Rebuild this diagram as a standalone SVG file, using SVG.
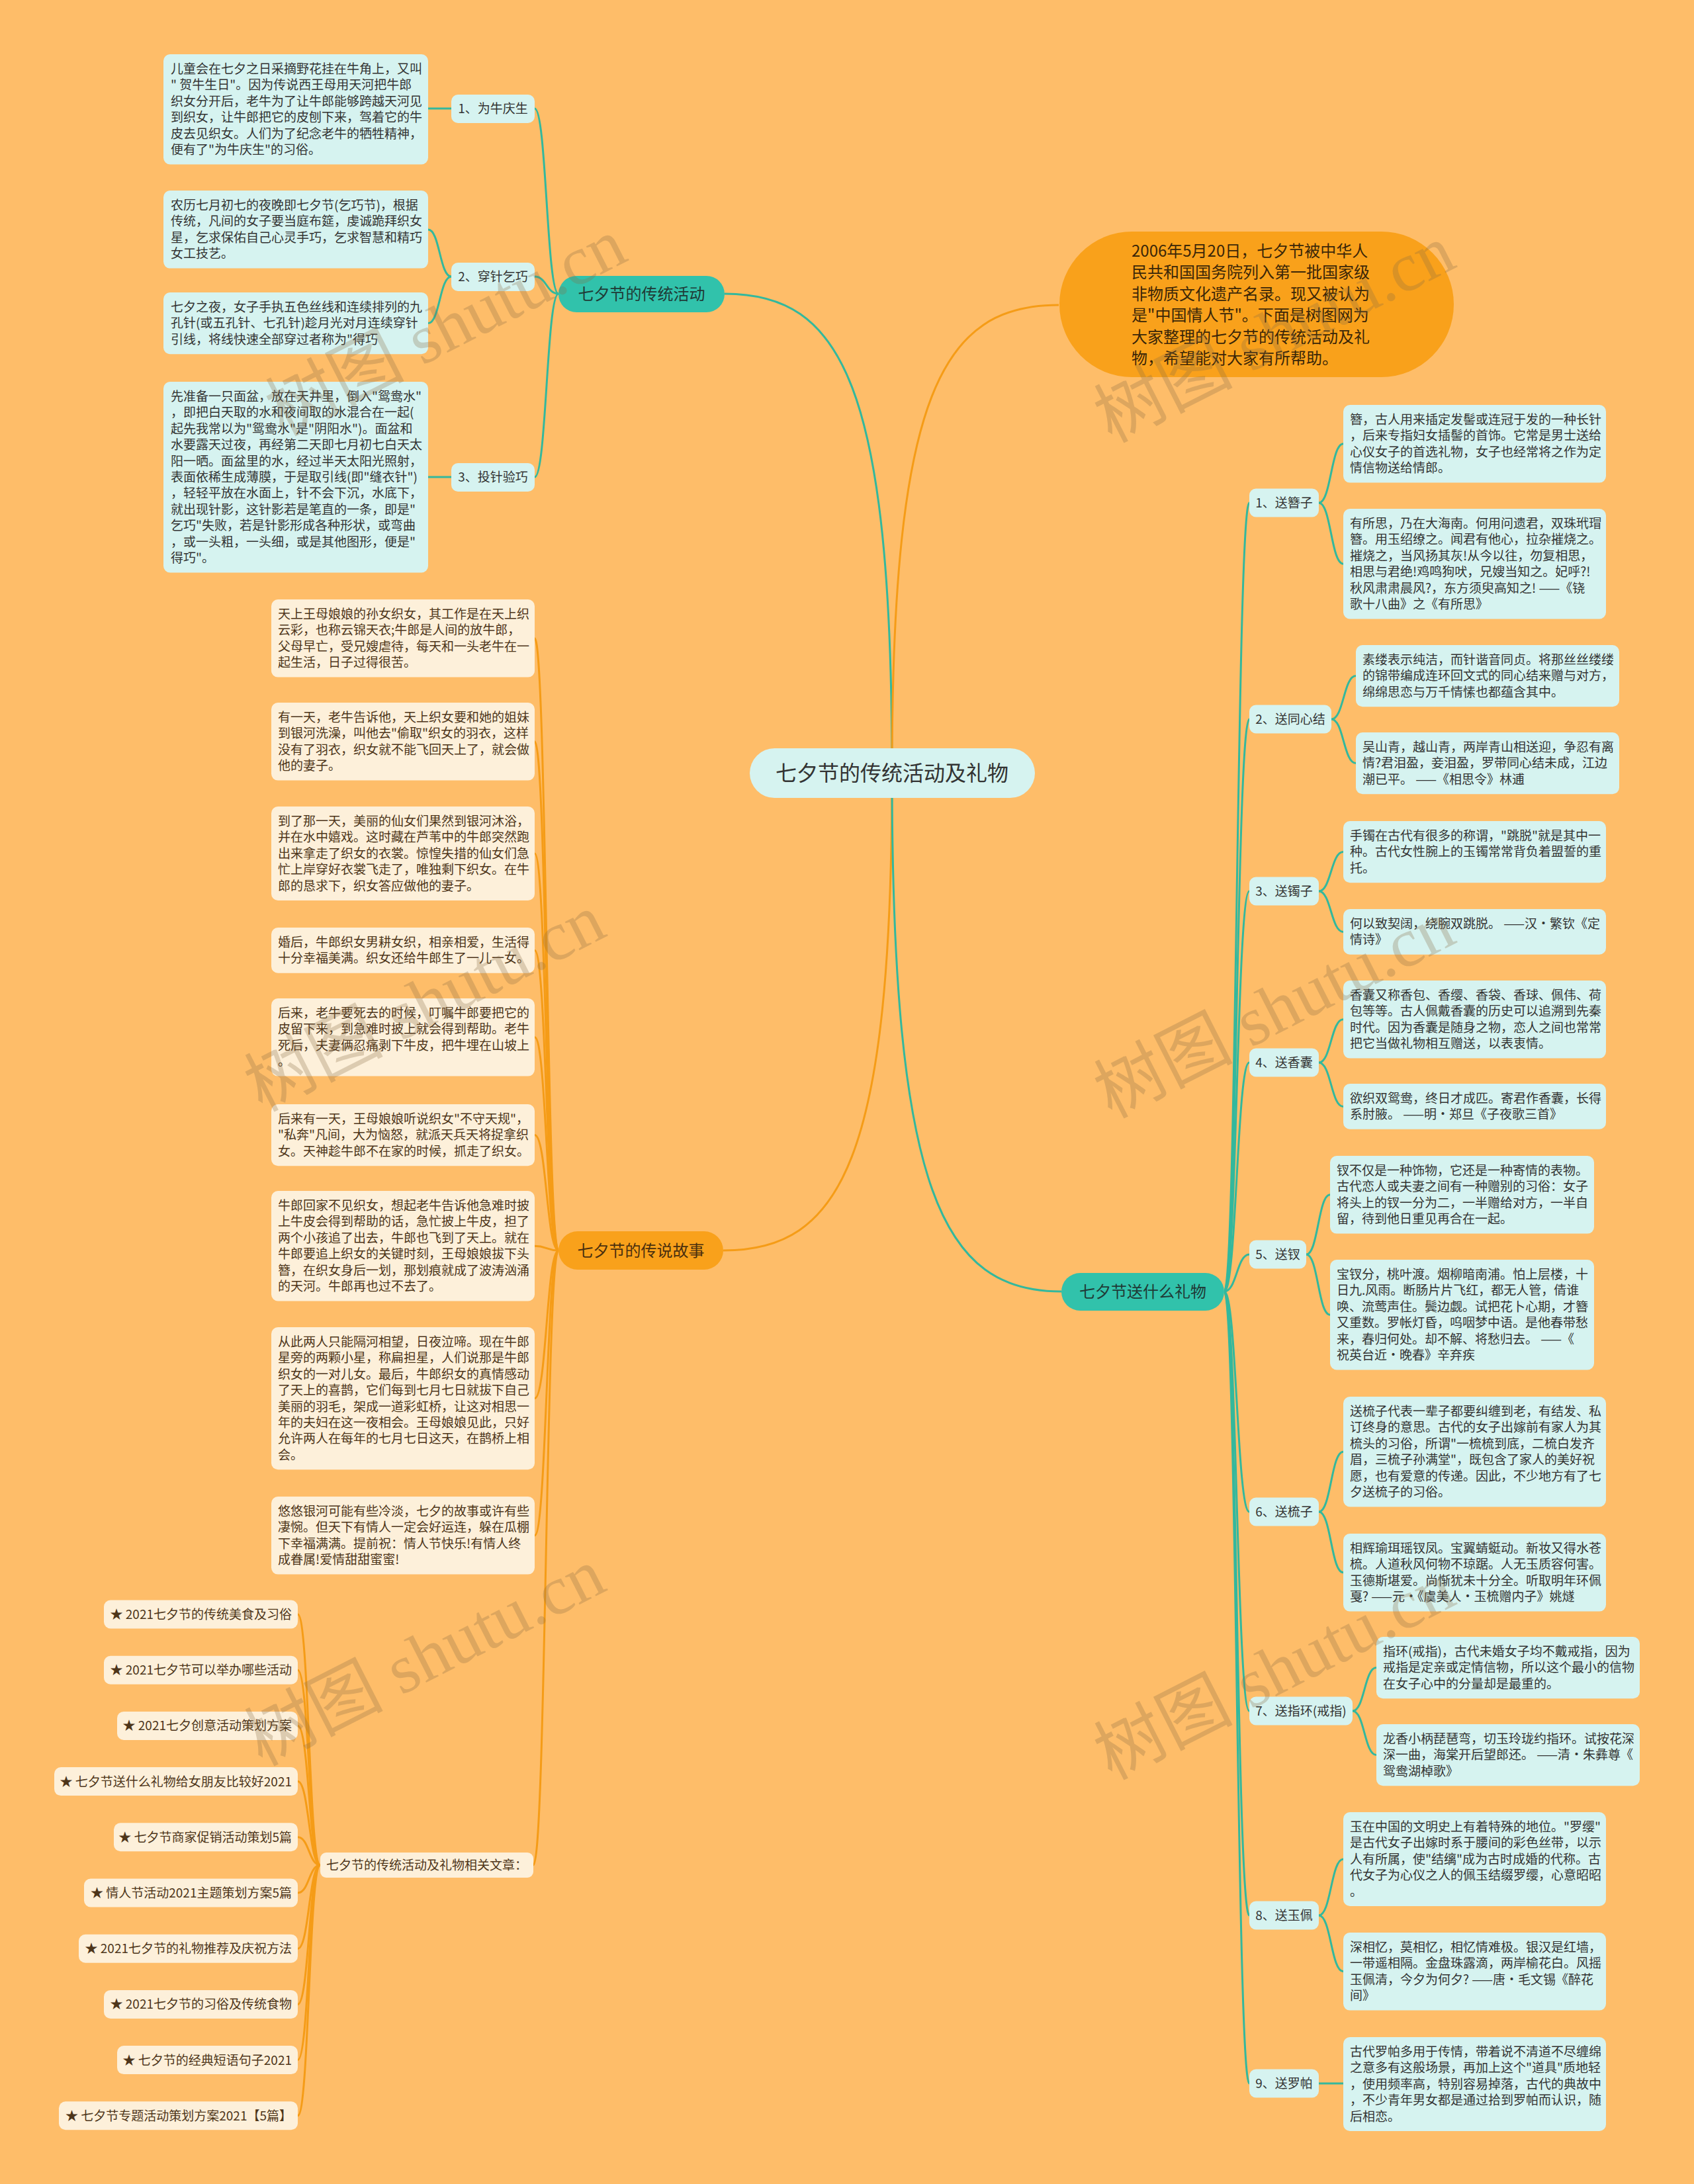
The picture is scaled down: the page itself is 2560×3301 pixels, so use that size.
<svg xmlns="http://www.w3.org/2000/svg" width="2560" height="3301" viewBox="0 0 2560 3301">
<style>
text{font-family:"Noto Sans CJK SC","Liberation Sans",sans-serif;}
.t{font-size:19px;fill:#333333;}
.tb{font-size:19px;fill:#4d3519;}
.cy{fill:#d6f3f0;}
.cr{fill:#fdf0da;}
.tl{fill:#31c2ab;}
.or{fill:#f9a11b;}
.lt{fill:none;stroke:#33b89d;stroke-width:3;}
.lo{fill:none;stroke:#f59c17;stroke-width:3;}
.c{text-anchor:middle;}
.e{text-anchor:end;}
.wm{font-family:"Liberation Serif","Noto Sans CJK SC",serif;font-size:105px;fill:#8a6a45;fill-opacity:0.28;text-anchor:middle;}
</style>
<rect x="0" y="0" width="2560" height="3301" fill="#febd69"/>

<g id="connectors">
<!-- root -->
<path class="lt" d="M1348 1168 C1348 581 1272 444 1095 444"/>
<path class="lo" d="M1348 1168 C1348 595 1424 461 1600 461"/>
<path class="lo" d="M1348 1168 C1348 1753 1271 1890 1093 1890"/>
<path class="lt" d="M1348 1168 C1348 1803 1425 1952 1604 1952"/>
<!-- traditional activities -->
<path class="lt" d="M844 444 C826 444 826 164 808 164"/>
<path class="lt" d="M844 444 C826 444 826 418 808 418"/>
<path class="lt" d="M844 444 C826 444 826 721 808 721"/>
<path class="lt" d="M682 164 L647 164"/>
<path class="lt" d="M682 418 C664.5 418 664.5 347 647 347"/>
<path class="lt" d="M682 418 C664.5 418 664.5 488.6 647 488.6"/>
<path class="lt" d="M682 721 L647 721"/>
<!-- story -->
<path class="lo" d="M844 1890 C826 1890 826 964.8 808 964.8"/>
<path class="lo" d="M844 1890 C826 1890 826 1120.8 808 1120.8"/>
<path class="lo" d="M844 1890 C826 1890 826 1290 808 1290"/>
<path class="lo" d="M844 1890 C826 1890 826 1436.4 808 1436.4"/>
<path class="lo" d="M844 1890 C826 1890 826 1567.8 808 1567.8"/>
<path class="lo" d="M844 1890 C826 1890 826 1715.6 808 1715.6"/>
<path class="lo" d="M844 1890 C826 1890 826 1883.2 808 1883.2"/>
<path class="lo" d="M844 1890 C826 1890 826 2113.6 808 2113.6"/>
<path class="lo" d="M844 1890 C826 1890 826 2320.8 808 2320.8"/>
<path class="lo" d="M844 1890 C825 1890 825 2819 806 2819"/>
<!-- related -->
<path class="lo" d="M484 2819 C467 2819 467 2440 450 2440"/>
<path class="lo" d="M484 2819 C467 2819 467 2524.2 450 2524.2"/>
<path class="lo" d="M484 2819 C467 2819 467 2608.4 450 2608.4"/>
<path class="lo" d="M484 2819 C467 2819 467 2692.6 450 2692.6"/>
<path class="lo" d="M484 2819 C467 2819 467 2776.8 450 2776.8"/>
<path class="lo" d="M484 2819 C467 2819 467 2861 450 2861"/>
<path class="lo" d="M484 2819 C467 2819 467 2945.2 450 2945.2"/>
<path class="lo" d="M484 2819 C467 2819 467 3029.4 450 3029.4"/>
<path class="lo" d="M484 2819 C467 2819 467 3113.6 450 3113.6"/>
<path class="lo" d="M484 2819 C467 2819 467 3197.8 450 3197.8"/>
<!-- gifts main -->
<path class="lt" d="M1850 1952 C1869 1952 1869 760 1888 760"/>
<path class="lt" d="M1850 1952 C1869 1952 1869 1087 1888 1087"/>
<path class="lt" d="M1850 1952 C1869 1952 1869 1347 1888 1347"/>
<path class="lt" d="M1850 1952 C1869 1952 1869 1606 1888 1606"/>
<path class="lt" d="M1850 1952 C1869 1952 1869 1896 1888 1896"/>
<path class="lt" d="M1850 1952 C1869 1952 1869 2285 1888 2285"/>
<path class="lt" d="M1850 1952 C1869 1952 1869 2586 1888 2586"/>
<path class="lt" d="M1850 1952 C1869 1952 1869 2895 1888 2895"/>
<path class="lt" d="M1850 1952 C1869 1952 1869 3149 1888 3149"/>
<!-- gifts leaves -->
<path class="lt" d="M1993 760 C2011.5 760 2011.5 670.8 2030 670.8"/>
<path class="lt" d="M1993 760 C2011.5 760 2011.5 852.2 2030 852.2"/>
<path class="lt" d="M2012 1087 C2030.5 1087 2030.5 1021.6 2049 1021.6"/>
<path class="lt" d="M2012 1087 C2030.5 1087 2030.5 1153.6 2049 1153.6"/>
<path class="lt" d="M1993 1347 C2011.5 1347 2011.5 1287.6 2030 1287.6"/>
<path class="lt" d="M1993 1347 C2011.5 1347 2011.5 1408.4 2030 1408.4"/>
<path class="lt" d="M1993 1606 C2011.5 1606 2011.5 1540.8 2030 1540.8"/>
<path class="lt" d="M1993 1606 C2011.5 1606 2011.5 1672.4 2030 1672.4"/>
<path class="lt" d="M1974 1896 C1992 1896 1992 1805.8 2010 1805.8"/>
<path class="lt" d="M1974 1896 C1992 1896 1992 1987.2 2010 1987.2"/>
<path class="lt" d="M1993 2285 C2011.5 2285 2011.5 2194.2 2030 2194.2"/>
<path class="lt" d="M1993 2285 C2011.5 2285 2011.5 2376.8 2030 2376.8"/>
<path class="lt" d="M2044 2586 C2062 2586 2062 2520.6 2080 2520.6"/>
<path class="lt" d="M2044 2586 C2062 2586 2062 2652.6 2080 2652.6"/>
<path class="lt" d="M1993 2895 C2011.5 2895 2011.5 2810 2030 2810"/>
<path class="lt" d="M1993 2895 C2011.5 2895 2011.5 2979.8 2030 2979.8"/>
<path class="lt" d="M1993 3149 L2030 3149"/>
</g>

<g id="root">
<rect x="1133" y="1131" width="431" height="75" rx="37.5" class="cy"/>
<text x="1348" y="1180" class="c" font-size="32" fill="#333333">七夕节的传统活动及礼物</text>
</g>

<g id="intro">
<rect x="1601" y="350" width="596" height="220" rx="110" class="or"/>
<text x="1710" y="388" font-size="24" fill="#3a2608">
<tspan x="1710">2006年5月20日，七夕节被中华人</tspan>
<tspan x="1710" dy="32.4">民共和国国务院列入第一批国家级</tspan>
<tspan x="1710" dy="32.4">非物质文化遗产名录。现又被认为</tspan>
<tspan x="1710" dy="32.4">是"中国情人节"。下面是树图网为</tspan>
<tspan x="1710" dy="32.4">大家整理的七夕节的传统活动及礼</tspan>
<tspan x="1710" dy="32.4">物，希望能对大家有所帮助。</tspan>
</text>
</g>

<!-- traditional activities -->
<g id="trad">
<rect x="844" y="417" width="251" height="55" rx="27.5" class="tl"/>
<text x="969.5" y="453" class="c" font-size="24" fill="#1f3a36">七夕节的传统活动</text>
</g>
<g id="trad1"><rect x="682" y="143" width="126" height="43" rx="10" class="cy"/><text x="745" y="171" class="t c">1、为牛庆生</text></g>
<g id="trad2"><rect x="682" y="397" width="126" height="43" rx="10" class="cy"/><text x="745" y="425" class="t c">2、穿针乞巧</text></g>
<g id="trad3"><rect x="682" y="700" width="126" height="43" rx="10" class="cy"/><text x="745" y="728" class="t c">3、投针验巧</text></g>
<g id="trad1a"><rect x="247" y="82" width="400" height="166.4" rx="10" class="cy"/>
<text x="258" y="111" class="t"><tspan x="258">儿童会在七夕之日采摘野花挂在牛角上，又叫</tspan><tspan x="258" dy="24.4">" 贺牛生日"。因为传说西王母用天河把牛郎</tspan><tspan x="258" dy="24.4">织女分开后，老牛为了让牛郎能够跨越天河见</tspan><tspan x="258" dy="24.4">到织女，让牛郎把它的皮刨下来，驾着它的牛</tspan><tspan x="258" dy="24.4">皮去见织女。人们为了纪念老牛的牺牲精神，</tspan><tspan x="258" dy="24.4">便有了"为牛庆生"的习俗。</tspan></text></g>
<g id="trad2a"><rect x="247" y="288" width="400" height="117.6" rx="10" class="cy"/>
<text x="258" y="317" class="t"><tspan x="258">农历七月初七的夜晚即七夕节(乞巧节)，根据</tspan><tspan x="258" dy="24.4">传统，凡间的女子要当庭布筵，虔诚跪拜织女</tspan><tspan x="258" dy="24.4">星，乞求保佑自己心灵手巧，乞求智慧和精巧</tspan><tspan x="258" dy="24.4">女工技艺。</tspan></text></g>
<g id="trad2b"><rect x="247" y="442" width="400" height="93.2" rx="10" class="cy"/>
<text x="258" y="471" class="t"><tspan x="258">七夕之夜，女子手执五色丝线和连续排列的九</tspan><tspan x="258" dy="24.4">孔针(或五孔针、七孔针)趁月光对月连续穿针</tspan><tspan x="258" dy="24.4">引线，将线快速全部穿过者称为"得巧</tspan></text></g>
<g id="trad3a"><rect x="247" y="577" width="400" height="288.4" rx="10" class="cy"/>
<text x="258" y="606" class="t"><tspan x="258">先准备一只面盆，放在天井里，倒入"鸳鸯水"</tspan><tspan x="258" dy="24.4">，即把白天取的水和夜间取的水混合在一起(</tspan><tspan x="258" dy="24.4">起先我常以为"鸳鸯水"是"阴阳水")。面盆和</tspan><tspan x="258" dy="24.4">水要露天过夜，再经第二天即七月初七白天太</tspan><tspan x="258" dy="24.4">阳一晒。面盆里的水，经过半天太阳光照射，</tspan><tspan x="258" dy="24.4">表面依稀生成薄膜，于是取引线(即"缝衣针")</tspan><tspan x="258" dy="24.4">，轻轻平放在水面上，针不会下沉，水底下，</tspan><tspan x="258" dy="24.4">就出现针影，这针影若是笔直的一条，即是"</tspan><tspan x="258" dy="24.4">乞巧"失败，若是针影形成各种形状，或弯曲</tspan><tspan x="258" dy="24.4">，或一头粗，一头细，或是其他图形，便是"</tspan><tspan x="258" dy="24.4">得巧"。</tspan></text></g>

<!-- story -->
<g id="story">
<rect x="844" y="1861" width="249" height="58" rx="29" class="or"/>
<text x="968.5" y="1899" class="c" font-size="24" fill="#4a2f0e">七夕节的传说故事</text>
</g>
<g id="story1"><rect x="410" y="906" width="398" height="117.6" rx="10" class="cr"/>
<text x="420" y="935" class="tb"><tspan x="420">天上王母娘娘的孙女织女，其工作是在天上织</tspan><tspan x="420" dy="24.4">云彩，也称云锦天衣;牛郎是人间的放牛郎，</tspan><tspan x="420" dy="24.4">父母早亡，受兄嫂虐待，每天和一头老牛在一</tspan><tspan x="420" dy="24.4">起生活，日子过得很苦。</tspan></text></g>
<g id="story2"><rect x="410" y="1062" width="398" height="117.6" rx="10" class="cr"/>
<text x="420" y="1091" class="tb"><tspan x="420">有一天，老牛告诉他，天上织女要和她的姐妹</tspan><tspan x="420" dy="24.4">到银河洗澡，叫他去"偷取"织女的羽衣，这样</tspan><tspan x="420" dy="24.4">没有了羽衣，织女就不能飞回天上了，就会做</tspan><tspan x="420" dy="24.4">他的妻子。</tspan></text></g>
<g id="story3"><rect x="410" y="1219" width="398" height="142" rx="10" class="cr"/>
<text x="420" y="1248" class="tb"><tspan x="420">到了那一天，美丽的仙女们果然到银河沐浴，</tspan><tspan x="420" dy="24.4">并在水中嬉戏。这时藏在芦苇中的牛郎突然跑</tspan><tspan x="420" dy="24.4">出来拿走了织女的衣裳。惊惶失措的仙女们急</tspan><tspan x="420" dy="24.4">忙上岸穿好衣裳飞走了，唯独剩下织女。在牛</tspan><tspan x="420" dy="24.4">郎的恳求下，织女答应做他的妻子。</tspan></text></g>
<g id="story4"><rect x="410" y="1402" width="398" height="68.8" rx="10" class="cr"/>
<text x="420" y="1431" class="tb"><tspan x="420">婚后，牛郎织女男耕女织，相亲相爱，生活得</tspan><tspan x="420" dy="24.4">十分幸福美满。织女还给牛郎生了一儿一女。</tspan></text></g>
<g id="story5"><rect x="410" y="1509" width="398" height="117.6" rx="10" class="cr"/>
<text x="420" y="1538" class="tb"><tspan x="420">后来，老牛要死去的时候，叮嘱牛郎要把它的</tspan><tspan x="420" dy="24.4">皮留下来，到急难时披上就会得到帮助。老牛</tspan><tspan x="420" dy="24.4">死后，夫妻俩忍痛剥下牛皮，把牛埋在山坡上</tspan><tspan x="420" dy="24.4">。</tspan></text></g>
<g id="story6"><rect x="410" y="1669" width="398" height="93.2" rx="10" class="cr"/>
<text x="420" y="1698" class="tb"><tspan x="420">后来有一天，王母娘娘听说织女"不守天规"，</tspan><tspan x="420" dy="24.4">"私奔"凡间，大为恼怒，就派天兵天将捉拿织</tspan><tspan x="420" dy="24.4">女。天神趁牛郎不在家的时候，抓走了织女。</tspan></text></g>
<g id="story7"><rect x="410" y="1800" width="398" height="166.4" rx="10" class="cr"/>
<text x="420" y="1829" class="tb"><tspan x="420">牛郎回家不见织女，想起老牛告诉他急难时披</tspan><tspan x="420" dy="24.4">上牛皮会得到帮助的话，急忙披上牛皮，担了</tspan><tspan x="420" dy="24.4">两个小孩追了出去，牛郎也飞到了天上。就在</tspan><tspan x="420" dy="24.4">牛郎要追上织女的关键时刻，王母娘娘拔下头</tspan><tspan x="420" dy="24.4">簪，在织女身后一划，那划痕就成了波涛汹涌</tspan><tspan x="420" dy="24.4">的天河。牛郎再也过不去了。</tspan></text></g>
<g id="story8"><rect x="410" y="2006" width="398" height="215.2" rx="10" class="cr"/>
<text x="420" y="2035" class="tb"><tspan x="420">从此两人只能隔河相望，日夜泣啼。现在牛郎</tspan><tspan x="420" dy="24.4">星旁的两颗小星，称扁担星，人们说那是牛郎</tspan><tspan x="420" dy="24.4">织女的一对儿女。最后，牛郎织女的真情感动</tspan><tspan x="420" dy="24.4">了天上的喜鹊，它们每到七月七日就拔下自己</tspan><tspan x="420" dy="24.4">美丽的羽毛，架成一道彩虹桥，让这对相思一</tspan><tspan x="420" dy="24.4">年的夫妇在这一夜相会。王母娘娘见此，只好</tspan><tspan x="420" dy="24.4">允许两人在每年的七月七日这天，在鹊桥上相</tspan><tspan x="420" dy="24.4">会。</tspan></text></g>
<g id="story9"><rect x="410" y="2262" width="398" height="117.6" rx="10" class="cr"/>
<text x="420" y="2291" class="tb"><tspan x="420">悠悠银河可能有些冷淡，七夕的故事或许有些</tspan><tspan x="420" dy="24.4">凄惋。但天下有情人一定会好运连，躲在瓜棚</tspan><tspan x="420" dy="24.4">下幸福满满。提前祝：情人节快乐!有情人终</tspan><tspan x="420" dy="24.4">成眷属!爱情甜甜蜜蜜!</tspan></text></g>

<!-- related -->
<g id="related"><rect x="484" y="2800" width="322" height="38" rx="9" class="cr"/><text x="645" y="2826" class="tb c">七夕节的传统活动及礼物相关文章：</text></g>
<g id="rel1"><rect x="157" y="2418.5" width="293" height="43" rx="10" class="cr"/><text x="441" y="2447" class="tb e">★ 2021七夕节的传统美食及习俗</text></g>
<g id="rel2"><rect x="157" y="2502.7" width="293" height="43" rx="10" class="cr"/><text x="441" y="2531.2" class="tb e">★ 2021七夕节可以举办哪些活动</text></g>
<g id="rel3"><rect x="177" y="2586.9" width="273" height="43" rx="10" class="cr"/><text x="441" y="2615.4" class="tb e">★ 2021七夕创意活动策划方案</text></g>
<g id="rel4"><rect x="82" y="2671.1" width="368" height="43" rx="10" class="cr"/><text x="441" y="2699.6" class="tb e">★ 七夕节送什么礼物给女朋友比较好2021</text></g>
<g id="rel5"><rect x="172" y="2755.3" width="278" height="43" rx="10" class="cr"/><text x="441" y="2783.8" class="tb e">★ 七夕节商家促销活动策划5篇</text></g>
<g id="rel6"><rect x="127" y="2839.5" width="323" height="43" rx="10" class="cr"/><text x="441" y="2868" class="tb e">★ 情人节活动2021主题策划方案5篇</text></g>
<g id="rel7"><rect x="119" y="2923.7" width="331" height="43" rx="10" class="cr"/><text x="441" y="2952.2" class="tb e">★ 2021七夕节的礼物推荐及庆祝方法</text></g>
<g id="rel8"><rect x="157" y="3007.9" width="293" height="43" rx="10" class="cr"/><text x="441" y="3036.4" class="tb e">★ 2021七夕节的习俗及传统食物</text></g>
<g id="rel9"><rect x="177" y="3092.1" width="273" height="43" rx="10" class="cr"/><text x="441" y="3120.6" class="tb e">★ 七夕节的经典短语句子2021</text></g>
<g id="rel10"><rect x="89" y="3176.3" width="361" height="43" rx="10" class="cr"/><text x="441" y="3204.8" class="tb e">★ 七夕节专题活动策划方案2021【5篇】</text></g>

<!-- gifts -->
<g id="gifts">
<rect x="1604" y="1924" width="246" height="57" rx="28.5" class="tl"/>
<text x="1727" y="1961" class="c" font-size="24" fill="#1f3a36">七夕节送什么礼物</text>
</g>
<g id="g1"><rect x="1888" y="738.5" width="105" height="43" rx="10" class="cy"/><text x="1940.5" y="767" class="t c">1、送簪子</text></g>
<g id="g2"><rect x="1888" y="1065.5" width="124" height="43" rx="10" class="cy"/><text x="1950" y="1094" class="t c">2、送同心结</text></g>
<g id="g3"><rect x="1888" y="1325.5" width="105" height="43" rx="10" class="cy"/><text x="1940.5" y="1354" class="t c">3、送镯子</text></g>
<g id="g4"><rect x="1888" y="1584.5" width="105" height="43" rx="10" class="cy"/><text x="1940.5" y="1613" class="t c">4、送香囊</text></g>
<g id="g5"><rect x="1888" y="1874.5" width="86" height="43" rx="10" class="cy"/><text x="1931" y="1903" class="t c">5、送钗</text></g>
<g id="g6"><rect x="1888" y="2263.5" width="105" height="43" rx="10" class="cy"/><text x="1940.5" y="2292" class="t c">6、送梳子</text></g>
<g id="g7"><rect x="1888" y="2564.5" width="156" height="43" rx="10" class="cy"/><text x="1966" y="2593" class="t c">7、送指环(戒指)</text></g>
<g id="g8"><rect x="1888" y="2873.5" width="105" height="43" rx="10" class="cy"/><text x="1940.5" y="2902" class="t c">8、送玉佩</text></g>
<g id="g9"><rect x="1888" y="3127.5" width="105" height="43" rx="10" class="cy"/><text x="1940.5" y="3156" class="t c">9、送罗帕</text></g>

<g id="g1a"><rect x="2030" y="612" width="397" height="117.6" rx="10" class="cy"/>
<text x="2040" y="641" class="t"><tspan x="2040">簪，古人用来插定发髻或连冠于发的一种长针</tspan><tspan x="2040" dy="24.4">，后来专指妇女插髻的首饰。它常是男士送给</tspan><tspan x="2040" dy="24.4">心仪女子的首选礼物，女子也经常将之作为定</tspan><tspan x="2040" dy="24.4">情信物送给情郎。</tspan></text></g>
<g id="g1b"><rect x="2030" y="769" width="397" height="166.4" rx="10" class="cy"/>
<text x="2040" y="798" class="t"><tspan x="2040">有所思，乃在大海南。何用问遗君，双珠玳瑁</tspan><tspan x="2040" dy="24.4">簪。用玉绍缭之。闻君有他心，拉杂摧烧之。</tspan><tspan x="2040" dy="24.4">摧烧之，当风扬其灰!从今以往，勿复相思，</tspan><tspan x="2040" dy="24.4">相思与君绝!鸡鸣狗吠，兄嫂当知之。妃呼?!</tspan><tspan x="2040" dy="24.4">秋风肃肃晨风?，东方须臾高知之! ——《铙</tspan><tspan x="2040" dy="24.4">歌十八曲》之《有所思》</tspan></text></g>
<g id="g2a"><rect x="2049" y="975" width="398" height="93.2" rx="10" class="cy"/>
<text x="2059" y="1004" class="t"><tspan x="2059">素缕表示纯洁，而针谐音同贞。将那丝丝缕缕</tspan><tspan x="2059" dy="24.4">的锦带编成连环回文式的同心结来赠与对方，</tspan><tspan x="2059" dy="24.4">绵绵思恋与万千情愫也都蕴含其中。</tspan></text></g>
<g id="g2b"><rect x="2049" y="1107" width="398" height="93.2" rx="10" class="cy"/>
<text x="2059" y="1136" class="t"><tspan x="2059">吴山青，越山青，两岸青山相送迎，争忍有离</tspan><tspan x="2059" dy="24.4">情?君泪盈，妾泪盈，罗带同心结未成，江边</tspan><tspan x="2059" dy="24.4">潮已平。 ——《相思令》林逋</tspan></text></g>
<g id="g3a"><rect x="2030" y="1241" width="397" height="93.2" rx="10" class="cy"/>
<text x="2040" y="1270" class="t"><tspan x="2040">手镯在古代有很多的称谓，"跳脱"就是其中一</tspan><tspan x="2040" dy="24.4">种。古代女性腕上的玉镯常常背负着盟誓的重</tspan><tspan x="2040" dy="24.4">托。</tspan></text></g>
<g id="g3b"><rect x="2030" y="1374" width="397" height="68.8" rx="10" class="cy"/>
<text x="2040" y="1403" class="t"><tspan x="2040">何以致契阔，绕腕双跳脱。 ——汉·繁钦《定</tspan><tspan x="2040" dy="24.4">情诗》</tspan></text></g>
<g id="g4a"><rect x="2030" y="1482" width="397" height="117.6" rx="10" class="cy"/>
<text x="2040" y="1511" class="t"><tspan x="2040">香囊又称香包、香缨、香袋、香球、佩伟、荷</tspan><tspan x="2040" dy="24.4">包等等。古人佩戴香囊的历史可以追溯到先秦</tspan><tspan x="2040" dy="24.4">时代。因为香囊是随身之物，恋人之间也常常</tspan><tspan x="2040" dy="24.4">把它当做礼物相互赠送，以表衷情。</tspan></text></g>
<g id="g4b"><rect x="2030" y="1638" width="397" height="68.8" rx="10" class="cy"/>
<text x="2040" y="1667" class="t"><tspan x="2040">欲织双鸳鸯，终日才成匹。寄君作香囊，长得</tspan><tspan x="2040" dy="24.4">系肘腋。 ——明·郑旦《子夜歌三首》</tspan></text></g>
<g id="g5a"><rect x="2010" y="1747" width="399" height="117.6" rx="10" class="cy"/>
<text x="2020" y="1776" class="t"><tspan x="2020">钗不仅是一种饰物，它还是一种寄情的表物。</tspan><tspan x="2020" dy="24.4">古代恋人或夫妻之间有一种赠别的习俗：女子</tspan><tspan x="2020" dy="24.4">将头上的钗一分为二，一半赠给对方，一半自</tspan><tspan x="2020" dy="24.4">留，待到他日重见再合在一起。</tspan></text></g>
<g id="g5b"><rect x="2010" y="1904" width="399" height="166.4" rx="10" class="cy"/>
<text x="2020" y="1933" class="t"><tspan x="2020">宝钗分，桃叶渡。烟柳暗南浦。怕上层楼，十</tspan><tspan x="2020" dy="24.4">日九.风雨。断肠片片飞红，都无人管，倩谁</tspan><tspan x="2020" dy="24.4">唤、流莺声住。鬓边觑。试把花卜心期，才簪</tspan><tspan x="2020" dy="24.4">又重数。罗帐灯昏，呜咽梦中语。是他春带愁</tspan><tspan x="2020" dy="24.4">来，春归何处。却不解、将愁归去。 ——《</tspan><tspan x="2020" dy="24.4">祝英台近·晚春》辛弃疾</tspan></text></g>
<g id="g6a"><rect x="2030" y="2111" width="397" height="166.4" rx="10" class="cy"/>
<text x="2040" y="2140" class="t"><tspan x="2040">送梳子代表一辈子都要纠缠到老，有结发、私</tspan><tspan x="2040" dy="24.4">订终身的意思。古代的女子出嫁前有家人为其</tspan><tspan x="2040" dy="24.4">梳头的习俗，所谓"一梳梳到底，二梳白发齐</tspan><tspan x="2040" dy="24.4">眉，三梳子孙满堂"，既包含了家人的美好祝</tspan><tspan x="2040" dy="24.4">愿，也有爱意的传递。因此，不少地方有了七</tspan><tspan x="2040" dy="24.4">夕送梳子的习俗。</tspan></text></g>
<g id="g6b"><rect x="2030" y="2318" width="397" height="117.6" rx="10" class="cy"/>
<text x="2040" y="2347" class="t"><tspan x="2040">相辉瑜珥瑶钗凤。宝翼蜻蜓动。新妆又得水苍</tspan><tspan x="2040" dy="24.4">梳。人道秋风何物不琼踞。人无玉质容何害。</tspan><tspan x="2040" dy="24.4">玉德斯堪爱。尚惭犹未十分全。听取明年环佩</tspan><tspan x="2040" dy="24.4">戛? ——元·《虞美人·玉梳赠内子》姚燧</tspan></text></g>
<g id="g7a"><rect x="2080" y="2474" width="398" height="93.2" rx="10" class="cy"/>
<text x="2090" y="2503" class="t"><tspan x="2090">指环(戒指)，古代未婚女子均不戴戒指，因为</tspan><tspan x="2090" dy="24.4">戒指是定亲或定情信物，所以这个最小的信物</tspan><tspan x="2090" dy="24.4">在女子心中的分量却是最重的。</tspan></text></g>
<g id="g7b"><rect x="2080" y="2606" width="398" height="93.2" rx="10" class="cy"/>
<text x="2090" y="2635" class="t"><tspan x="2090">龙香小柄琵琶弯，切玉玲珑约指环。试按花深</tspan><tspan x="2090" dy="24.4">深一曲，海棠开后望郎还。 ——清·朱彝尊《</tspan><tspan x="2090" dy="24.4">鸳鸯湖棹歌》</tspan></text></g>
<g id="g8a"><rect x="2030" y="2739" width="397" height="142" rx="10" class="cy"/>
<text x="2040" y="2768" class="t"><tspan x="2040">玉在中国的文明史上有着特殊的地位。"罗缨"</tspan><tspan x="2040" dy="24.4">是古代女子出嫁时系于腰间的彩色丝带，以示</tspan><tspan x="2040" dy="24.4">人有所属，使"结缡"成为古时成婚的代称。古</tspan><tspan x="2040" dy="24.4">代女子为心仪之人的佩玉结缀罗缨，心意昭昭</tspan><tspan x="2040" dy="24.4">。</tspan></text></g>
<g id="g8b"><rect x="2030" y="2921" width="397" height="117.6" rx="10" class="cy"/>
<text x="2040" y="2950" class="t"><tspan x="2040">深相忆，莫相忆，相忆情难极。银汉是红墙，</tspan><tspan x="2040" dy="24.4">一带遥相隔。金盘珠露滴，两岸榆花白。风摇</tspan><tspan x="2040" dy="24.4">玉佩清，今夕为何夕? ——唐·毛文锡《醉花</tspan><tspan x="2040" dy="24.4">间》</tspan></text></g>
<g id="g9a"><rect x="2030" y="3079" width="397" height="142" rx="10" class="cy"/>
<text x="2040" y="3108" class="t"><tspan x="2040">古代罗帕多用于传情，带着说不清道不尽缠绵</tspan><tspan x="2040" dy="24.4">之意多有这般场景，再加上这个"道具"质地轻</tspan><tspan x="2040" dy="24.4">，使用频率高，特别容易掉落，古代的典故中</tspan><tspan x="2040" dy="24.4">，不少青年男女都是通过拾到罗帕而认识，随</tspan><tspan x="2040" dy="24.4">后相恋。</tspan></text></g>

<g id="watermarks">
<text class="wm" x="674" y="530" transform="rotate(-27 674 495)">树图 shutu.cn</text>
<text class="wm" x="1926" y="540" transform="rotate(-27 1926 505)">树图 shutu.cn</text>
<text class="wm" x="642" y="1551" transform="rotate(-27 642 1516)">树图 shutu.cn</text>
<text class="wm" x="1926" y="1561" transform="rotate(-27 1926 1526)">树图 shutu.cn</text>
<text class="wm" x="642" y="2540" transform="rotate(-27 642 2505)">树图 shutu.cn</text>
<text class="wm" x="1926" y="2561" transform="rotate(-27 1926 2526)">树图 shutu.cn</text>
</g>
</svg>
